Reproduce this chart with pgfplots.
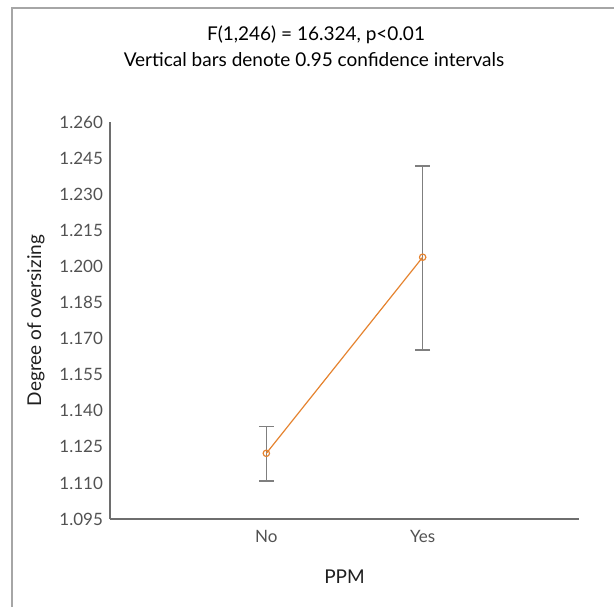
\documentclass[border=0pt]{standalone}
\usepackage{fontspec}
\setmainfont{Lato}
\usepackage{pgfplots}
\pgfplotsset{compat=1.18}
\definecolor{lineorange}{HTML}{E5832F}
\definecolor{barsgray}{HTML}{7F7F7F}
\definecolor{axisgray}{HTML}{6E6E6E}
\definecolor{framegray}{HTML}{A6A6A6}
\begin{document}
\begin{tikzpicture}
  \path[use as bounding box] (0,0) rectangle (307pt,303.5pt);
  % frame (left and top edges)
  \draw[framegray, line width=1pt] (6pt,0) -- (6pt,299.5pt) -- (307pt,299.5pt);
  % titles
  \node[font=\fontsize{9.5}{11}\selectfont] at (158pt,286pt) {F(1,246) = 16.324, p<0.01};
  \node[font=\fontsize{9.5}{11}\selectfont] at (157pt,273.5pt) {Vertical bars denote 0.95 confidence intervals};
  \begin{axis}[
    at={(55pt,44pt)}, anchor=south west,
    scale only axis,
    width=234.5pt, height=198.5pt,
    xmin=0, xmax=3,
    ymin=1.095, ymax=1.260,
    xtick={1,2}, xticklabels={No,Yes},
    ytick={1.095,1.110,1.125,1.140,1.155,1.170,1.185,1.200,1.215,1.230,1.245,1.260},
    yticklabel style={/pgf/number format/.cd, fixed, fixed zerofill, precision=3},
    xticklabel style={yshift=-2pt},
    /pgf/number format/assume math mode=true,
    axis lines=left,
    axis line style={axisgray, line width=0.75pt, -},
    major tick length=0pt,
    tick label style={font=\fontsize{8.5}{10}\selectfont, text=black!68},
    label style={font=\fontsize{9.5}{11}\selectfont, text=black!88},
    xlabel={PPM},
    ylabel={Degree of oversizing},
    xlabel style={at={(rel axis cs:0.5,-0.146)}, anchor=center},
    ylabel style={at={(rel axis cs:-0.158,0.5)}, anchor=center},
    clip=false,
  ]
    % confidence intervals
    \addplot[draw=none, mark=none, forget plot,
      error bars/.cd, y dir=both, y explicit,
      error bar style={barsgray, line width=0.75pt},
      error mark options={barsgray, line width=0.75pt, mark size=3.75pt, rotate=90}]
      coordinates {
        (1,1.1223) += (0,0.0111) -= (0,0.0115)
        (2,1.2038) += (0,0.0380) -= (0,0.0386)
      };
    % means
    \addplot[lineorange, line width=0.6pt, mark=o, mark size=1.6pt,
      mark options={lineorange, line width=0.6pt}]
      coordinates {
        (1,1.1223)
        (2,1.2038)
      };
  \end{axis}
\end{tikzpicture}
\end{document}
